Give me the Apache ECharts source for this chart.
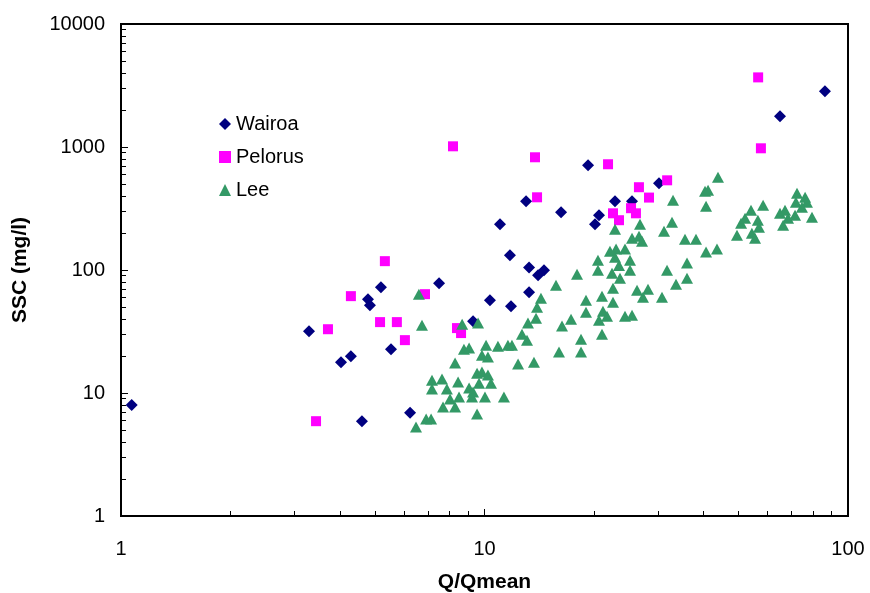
<!DOCTYPE html>
<html>
<head>
<meta charset="utf-8">
<script src="https://cdn.jsdelivr.net/npm/echarts@6/dist/echarts.min.js"></script>
<style>
html,body{margin:0;padding:0;background:#fff;}
#chart{width:870px;height:593px;}
</style>
</head>
<body>
<div id="chart"></div>
<script>
// Wairoa: [Q/Qmean, SSC]
const wairoa = [
  [1.07,8.0],[3.29,31.8],[4.03,17.8],[4.29,19.9],[4.78,57.9],[4.84,51.8],[5.19,72.5],
  [5.53,22.7],[4.60,5.9],[6.24,6.9],[7.50,78.1],[9.30,38.4],[10.35,56.8],[11.03,235],
  [11.75,132],[11.83,50.8],[13.01,362],[13.26,105],[13.26,66.0],[14.04,90.7],[14.58,99.6],
  [16.24,295],[19.27,710],[20.14,235],[20.65,279],[22.86,362],[25.46,362],[30.2,507],
  [65.0,1775],[86.4,2835]
];
const pelorus = [
  [3.44,5.9],[3.71,33.0],[4.29,61.3],[5.32,118],[5.16,37.7],[5.74,37.7],[6.04,26.9],
  [6.86,63.6],[8.19,1013],[8.40,33.7],[8.62,30.7],[13.77,825],[13.95,390],[21.87,724],
  [22.57,289],[23.44,254],[25.3,318],[26.1,289],[26.6,471],[28.35,388],[31.8,536],
  [56.6,3681],[57.6,976]
];
const lee = [
  [6.48,5.28],[6.91,6.14],[7.13,6.14],[6.60,63.6],[6.73,35.6],[7.17,12.7],[7.64,13.0],
  [7.17,10.8],[7.88,10.8],[8.30,17.5],[8.46,12.3],[8.04,8.92],[7.69,7.68],[8.30,7.68],
  [8.51,9.26],[8.68,36.3],[8.78,22.7],[9.07,23.2],[9.07,11.0],[9.24,9.26],[9.54,14.5],
  [9.84,14.8],[10.22,14.0],[10.42,12.0],[9.66,12.0],[9.30,10.2],[10.03,9.26],[11.31,9.26],
  [9.54,6.74],[9.60,37.0],[10.10,24.5],[10.89,24.0],[11.60,24.5],[11.90,24.5],[9.84,20.3],
  [10.22,19.6],[12.37,17.2],[12.68,30.1],[13.09,26.9],[13.68,17.8],[13.17,37.0],[13.86,40.6],
  [13.95,49.9],[14.30,59.0],[15.73,75.2],[17.97,92.5],[19.02,56.8],[19.02,45.4],[17.30,39.8],
  [16.34,35.0],[18.43,27.4],[16.03,21.5],[18.43,21.5],[20.52,120],[20.52,99.6],[21.05,61.3],
  [22.57,54.7],[21.18,46.3],[21.73,42.1],[20.65,39.1],[21.05,30.1],[24.35,42.1],[25.46,42.9],
  [22.86,214.5],[22.14,142],[23.01,148],[24.35,148],[22.86,127],[23.44,109],[22.43,94.2],
  [23.59,85.8],[25.14,120],[25.14,99.6],[22.57,71.2],[26.28,68.6],[28.17,69.8],[27.29,60.1],
  [30.78,60.1],[26.78,235],[25.46,181],[26.61,188],[27.13,171],[31.18,207],[32.80,245],
  [33.01,369],[31.78,99.6],[33.64,76.7],[36.07,114],[36.07,85.8],[35.61,178],[38.18,178],
  [40.69,140],[43.61,148],[40.43,437],[41.21,445],[40.69,330],[43.89,568],[49.5,192],
  [50.8,240],[52.1,264],[54.1,306],[54.4,199],[55.5,181],[56.5,254],[56.9,223],[58.4,336],
  [65.0,289],[67.1,306],[66.3,231],[68.4,264],[71.5,279],[72.4,421],[76.2,390],[77.1,355],
  [74.7,324],[71.9,355],[79.6,269]
];
const seriesNames = ['Wairoa','Pelorus','Lee'];
const xMinorTicks = [2,3,4,5,6,7,8,9,20,30,40,50,60,70,80,90];
const yMinorTicks = [2,3,4,5,6,7,8,9,20,30,40,50,60,70,80,90,200,300,400,500,600,700,800,900,2000,3000,4000,5000,6000,7000,8000,9000];

const FONT = 'Arial, "Liberation Sans", sans-serif';
const chart = echarts.init(document.getElementById('chart'), null, {renderer:'canvas'});
const axisLine = {show:true, onZero:false, lineStyle:{color:'#000', width:2}};

chart.setOption({
  animation:false,
  backgroundColor:'#fff',
  grid:{left:121, right:22, top:24, bottom:77, outerBoundsMode:'none', containLabel:false,
        show:true, borderColor:'#000', borderWidth:2, backgroundColor:'transparent'},
  legend:{
    orient:'vertical', left:214, top:109, itemWidth:12, itemHeight:12, itemGap:13,
    textStyle:{fontFamily:FONT, fontSize:20, color:'#000'},
    data:[{name:'Wairoa', icon:'diamond'},{name:'Pelorus', icon:'rect'},{name:'Lee', icon:'triangle'}]
  },
  xAxis:[
    {type:'log', logBase:10, min:1, max:100, position:'bottom', axisLine:axisLine,
     axisTick:{show:true, inside:true, length:7, lineStyle:{color:'#000', width:1}},
     axisLabel:{fontFamily:FONT, fontSize:20, color:'#000', margin:23, formatter:v=>String(Math.round(v))},
     splitLine:{show:false},
     name:'Q/Qmean', nameLocation:'middle', nameGap:56,
     nameTextStyle:{fontFamily:FONT, fontSize:21, fontWeight:'bold', color:'#000'}},
    {type:'value', min:0, max:2, position:'bottom', axisLine:{show:false, onZero:false},
     axisTick:{show:true, inside:true, length:5, customValues:xMinorTicks.map(Math.log10), lineStyle:{color:'#000', width:1}},
     axisLabel:{show:false}, splitLine:{show:false}}
  ],
  yAxis:[
    {type:'log', logBase:10, min:1, max:10000, position:'left', axisLine:axisLine,
     axisTick:{show:true, inside:true, length:7, lineStyle:{color:'#000', width:1}},
     axisLabel:{fontFamily:FONT, fontSize:20, color:'#000', margin:16, formatter:v=>String(Math.round(v))},
     splitLine:{show:false},
     name:'SSC (mg/l)', nameLocation:'middle', nameGap:90,
     nameTextStyle:{fontFamily:FONT, fontSize:21, fontWeight:'bold', color:'#000'}},
    {type:'value', min:0, max:4, position:'left', axisLine:{show:false, onZero:false},
     axisTick:{show:true, inside:true, length:5, customValues:yMinorTicks.map(Math.log10), lineStyle:{color:'#000', width:1}},
     axisLabel:{show:false}, splitLine:{show:false}}
  ],
  series:[
    {name:seriesNames[0], type:'scatter', data:wairoa, symbol:'diamond', symbolSize:12,
     itemStyle:{color:'#000080', opacity:1}, xAxisIndex:0, yAxisIndex:0},
    {name:seriesNames[1], type:'scatter', data:pelorus, symbol:'rect', symbolSize:10,
     itemStyle:{color:'#FF00FF', opacity:1}, xAxisIndex:0, yAxisIndex:0},
    {name:seriesNames[2], type:'scatter', data:lee, symbol:'triangle', symbolSize:[12,11],
     itemStyle:{color:'#339966', opacity:1}, xAxisIndex:0, yAxisIndex:0}
  ]
});
</script>
</body>
</html>
